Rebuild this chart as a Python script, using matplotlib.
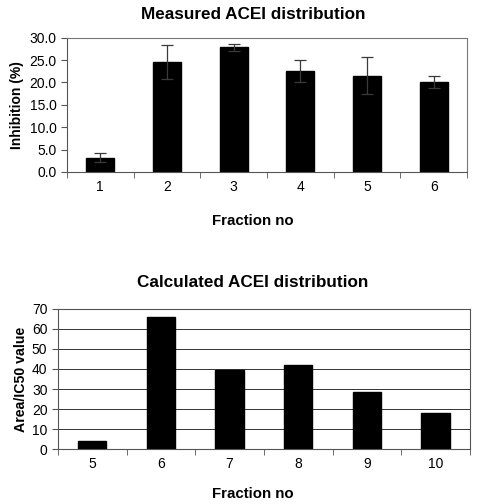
import numpy as np
import matplotlib
matplotlib.use("Agg")
import matplotlib.pyplot as plt
from matplotlib.ticker import FormatStrFormatter, FixedLocator

plt.rcParams['font.family'] = ['Liberation Sans', 'DejaVu Sans']

# Datos del grafico superior (medido)
fracciones_med = ['1', '2', '3', '4', '5', '6']
inhibicion = [3.2, 24.6, 27.9, 22.6, 21.5, 20.1]
error_inh = [1.1, 3.8, 0.8, 2.4, 4.1, 1.3]

# Datos del grafico inferior (calculado)
fracciones_calc = ['5', '6', '7', '8', '9', '10']
area_ic50 = [4.2, 66.0, 39.3, 42.0, 28.4, 18.2]

fig = plt.figure(figsize=(4.78, 5.04), dpi=100)

# ---- grafico superior ----
ax1 = fig.add_axes([0.140, 0.659, 0.837, 0.266])
x1 = np.arange(len(fracciones_med))
ax1.bar(x1, inhibicion, width=0.42, color='black', edgecolor='black')
ax1.errorbar(x1, inhibicion, yerr=error_inh, fmt='none', ecolor='#3a3a3a',
             elinewidth=0.9, capsize=4, capthick=0.9, zorder=3)
ax1.set_xlim(-0.5, len(x1) - 0.5)
ax1.set_ylim(0, 30)
ax1.set_yticks(np.arange(0, 31, 5))
ax1.yaxis.set_major_formatter(FormatStrFormatter('%.1f'))
ax1.set_xticks(x1)
ax1.set_xticklabels(fracciones_med)
ax1.xaxis.set_minor_locator(FixedLocator(np.arange(-0.5, len(x1), 1)))
ax1.tick_params(axis='x', which='major', length=0, pad=6, labelsize=10)
ax1.tick_params(axis='x', which='minor', length=4, color='#555555')
ax1.tick_params(axis='y', length=4, color='#555555', labelsize=10)
for s in ax1.spines.values():
    s.set_color('#777777')
    s.set_linewidth(0.8)
ax1.spines['left'].set_color('#555555')
ax1.spines['bottom'].set_color('#555555')
ax1.set_title('Measured ACEI distribution', fontsize=12.3, fontweight='bold', pad=13.5, x=0.465)
ax1.set_ylabel('Inhibition (%)', fontsize=10, fontweight='bold', labelpad=4)
ax1.set_xlabel('Fraction no', fontsize=10.8, fontweight='bold', labelpad=14, x=0.465)

# ---- grafico inferior ----
ax2 = fig.add_axes([0.121, 0.109, 0.862, 0.278])
x2 = np.arange(len(fracciones_calc))
ax2.set_axisbelow(True)
ax2.grid(axis='y', color='#333333', linewidth=0.7)
ax2.bar(x2, area_ic50, width=0.41, color='black', edgecolor='black')
ax2.set_xlim(-0.5, len(x2) - 0.5)
ax2.set_ylim(0, 70)
ax2.set_yticks(np.arange(0, 71, 10))
ax2.set_xticks(x2)
ax2.set_xticklabels(fracciones_calc)
ax2.xaxis.set_minor_locator(FixedLocator(np.arange(-0.5, len(x2), 1)))
ax2.tick_params(axis='x', which='major', length=0, pad=6, labelsize=10)
ax2.tick_params(axis='x', which='minor', length=4, color='#555555')
ax2.tick_params(axis='y', length=4, color='#555555', labelsize=10)
for s in ax2.spines.values():
    s.set_color('#555555')
    s.set_linewidth(0.8)
ax2.set_title('Calculated ACEI distribution', fontsize=12.3, fontweight='bold', pad=16, x=0.473)
ax2.set_ylabel('Area/IC50 value', fontsize=10.2, fontweight='bold', labelpad=3)
ax2.set_xlabel('Fraction no', fontsize=10.8, fontweight='bold', labelpad=11, x=0.473)

fig.savefig('out.png', dpi=100)
